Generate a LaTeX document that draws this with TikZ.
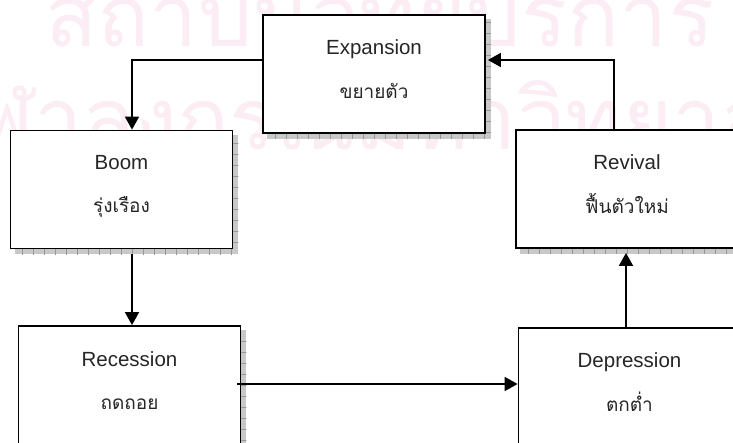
\documentclass[tikz,border=0pt]{standalone}
\usepackage{fontspec}
\setmainfont{Liberation Sans}
\newfontfamily\thaifont[Script=Thai]{Loma}
\usetikzlibrary{arrows.meta}
\definecolor{wmark}{RGB}{251,237,243}
\definecolor{shadegray}{RGB}{200,200,200}
\definecolor{shadetick}{RGB}{150,150,150}
\pgfdeclarelayer{back}
\pgfsetlayers{back,main}

% hatched drop shadow below and to the right of a stage box
\newcommand\castshadow[1]{%
  \fill[shadegray] ([shift={(5,5)}]#1.north west) rectangle ([shift={(5,5)}]#1.south east);
  \begin{scope}
    \clip ([shift={(5,0)}]#1.south west) rectangle ([shift={(5,5)}]#1.south east);
    \draw[shadetick, line width=0.6pt, xstep=11pt, ystep=1000pt]
      ([shift={(5,-2)}]#1.south west) grid ([shift={(5,7)}]#1.south east);
  \end{scope}
  \begin{scope}
    \clip ([shift={(0,5)}]#1.north east) rectangle ([shift={(5,0)}]#1.south east);
    \draw[shadetick, line width=0.6pt, xstep=1000pt, ystep=11pt]
      ([shift={(-2,5)}]#1.north east) grid ([shift={(7,0)}]#1.south east);
  \end{scope}
}

\begin{document}
\begin{tikzpicture}[x=1pt,y=-1pt,
  stage/.style={draw=black, line width=1.8pt, fill=white,
    minimum width=222pt, minimum height=118pt, inner sep=0pt},
  en/.style={anchor=base, font=\fontsize{20.5}{24}\selectfont, text=black!85, inner sep=0pt},
  th/.style={anchor=base, font=\thaifont\fontsize{19}{24}\selectfont, text=black!85, inner sep=0pt},
  flow/.style={line width=1.8pt, -{Triangle[length=13pt,width=14pt]}},
  wm/.style={anchor=base west, font=\thaifont\fontsize{86}{90}\selectfont,
    text=wmark, inner sep=0pt}]

\useasboundingbox (0,0) rectangle (733,443);
\clip (0,0) rectangle (733,443);

% stage boxes of the cycle
\node[stage] (exp)  at (374,74)    {};
\node[stage] (boom) at (121.5,189.5) {};
\node[stage] (rev)  at (627,189)   {};
\node[stage] (rec)  at (129.5,385) {};
\node[stage] (dep)  at (629.5,387) {};

\begin{pgfonlayer}{back}
  % faint institutional watermark
  \node[wm] (wm1) at (45,47)  {สถาบันวิทยบริการ};
  \node[wm] (wm2) at (-75,150) {จุฬาลงกรณ์มหาวิทยาลัย};
  \castshadow{exp}
  \castshadow{boom}
  \castshadow{rev}
  \castshadow{rec}
  \castshadow{dep}
\end{pgfonlayer}

% labels
\node[en] (expE) at ([yshift=-40pt]exp.north)  {Expansion};
\node[th] (expT) at ([yshift=-84pt]exp.north)  {ขยายตัว};
\node[en] (boomE) at ([yshift=-40pt]boom.north) {Boom};
\node[th] (boomT) at ([yshift=-83pt]boom.north) {รุ่งเรือง};
\node[en] (revE) at ([yshift=-40pt]rev.north)  {Revival};
\node[th] (revT) at ([yshift=-84pt]rev.north)  {ฟื้นตัวใหม่};
\node[en] (recE) at ([yshift=-41pt]rec.north)  {Recession};
\node[th] (recT) at ([yshift=-84pt]rec.north)  {ถดถอย};
\node[en] (depE) at ([yshift=-40pt]dep.north)  {Depression};
\node[th] (depT) at ([yshift=-84pt]dep.north)  {ตกต่ำ};

% connectors
\coordinate (bx) at ([xshift=10.5pt]boom.south);
\coordinate (hl) at ([yshift=3pt]dep.west);
\coordinate (hs) at ([xshift=-4pt]rec.east);
\coordinate (vx) at ([xshift=-1pt]rev.south);
\coordinate (ux) at ([xshift=-13pt]rev.north);
\coordinate (ex) at ([xshift=2pt,yshift=14pt]exp.east);

\draw[flow] ([yshift=14pt]exp.west) -| ([xshift=10.5pt]boom.north);
\draw[flow] ([yshift=-5pt]bx) -- (bx |- rec.north);
\draw[flow] (hs |- hl) -- (hl);
\draw[flow] (vx |- dep.north) -- ([yshift=-4pt]vx);
\draw[flow] (ux) |- (ex);
\end{tikzpicture}
\end{document}
